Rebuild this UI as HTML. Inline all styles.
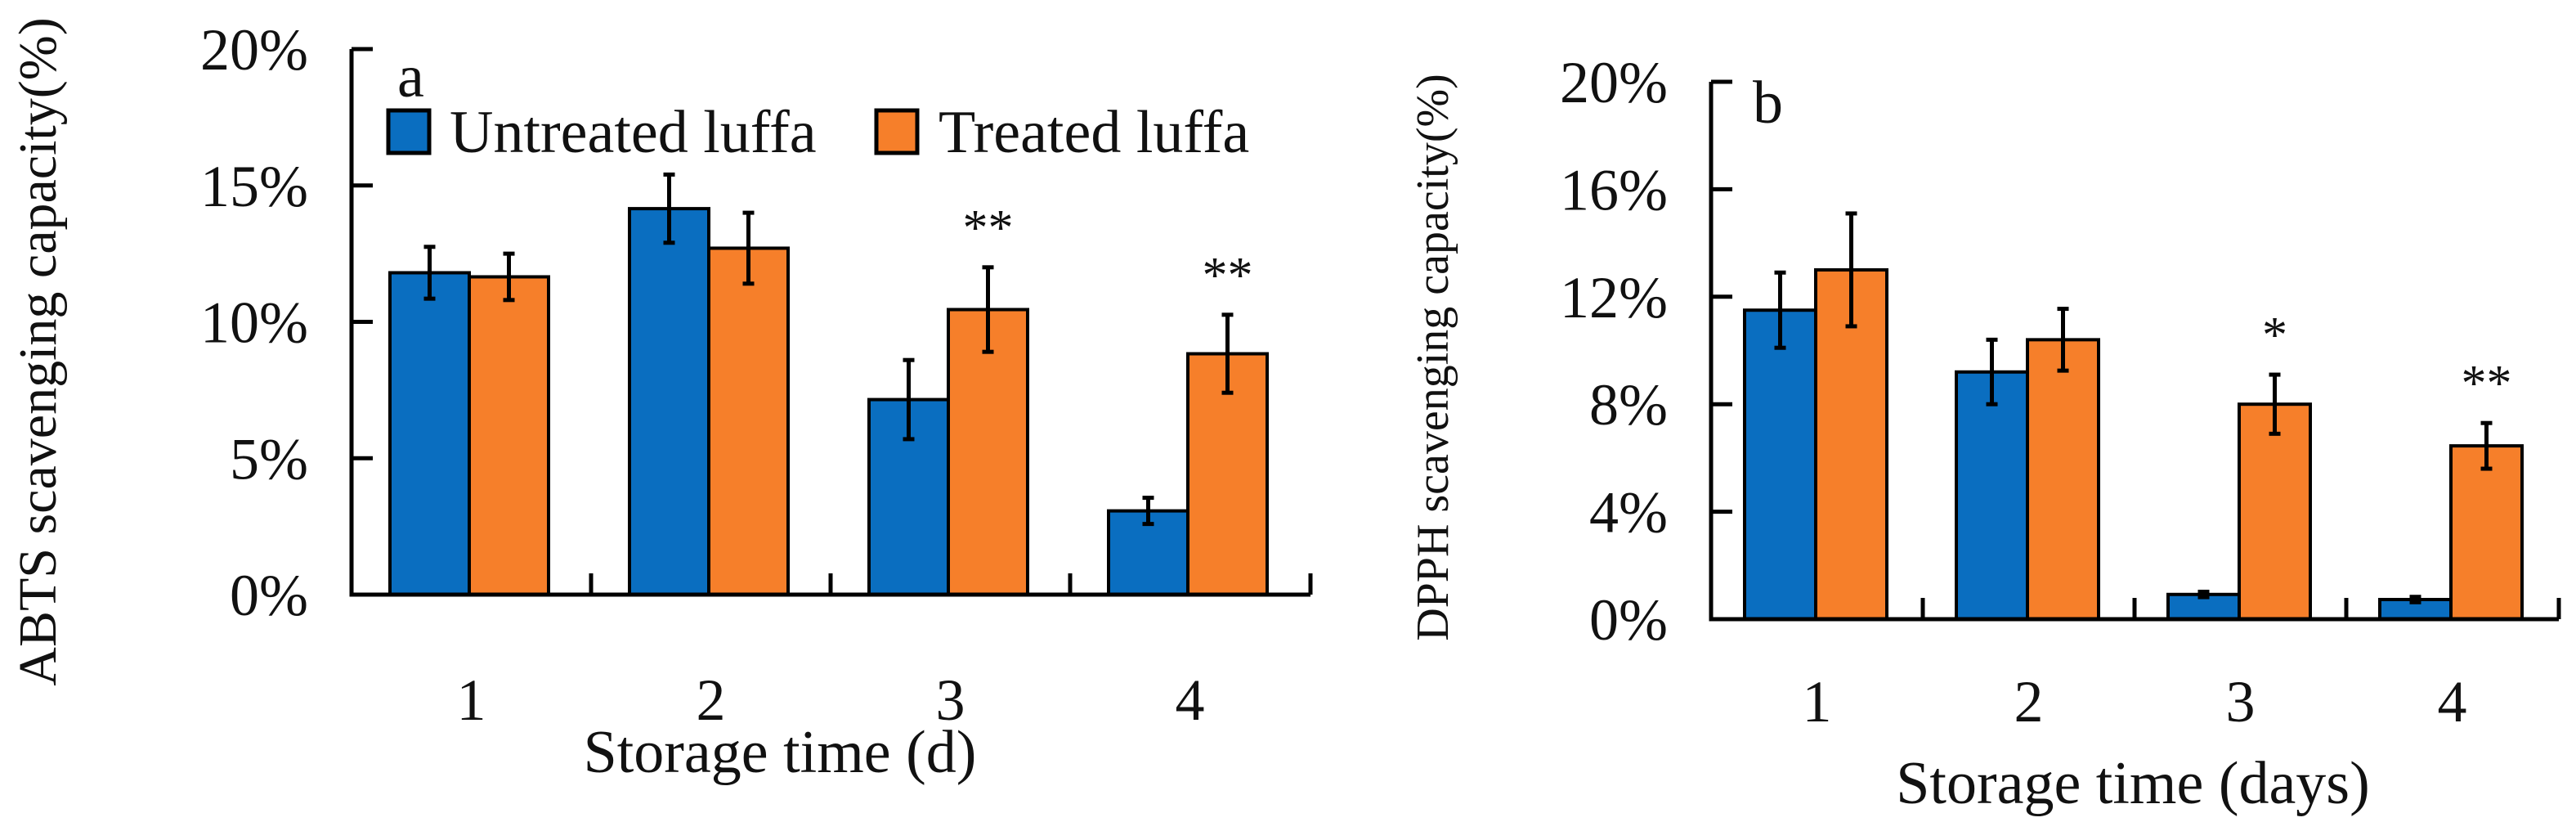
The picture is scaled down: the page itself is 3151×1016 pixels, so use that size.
<!DOCTYPE html>
<html><head><meta charset="utf-8"><style>
html,body{margin:0;padding:0;background:#fff;}
svg text{font-family:"Liberation Serif",serif;fill:#111;}
</style></head><body>
<svg id="chart" width="3151" height="1011" viewBox="0 0 3151 1011" xmlns="http://www.w3.org/2000/svg">
<g id="A"></g>
<g id="B"></g>
</svg>
<script>
const categories = ["1","2","3","4"];
const abtsUntreated = [11.8, 14.15, 7.15, 3.07];
const abtsUntreatedErr = [0.95, 1.25, 1.45, 0.48];
const abtsTreated = [11.65, 12.7, 10.45, 8.83];
const abtsTreatedErr = [0.85, 1.3, 1.55, 1.43];
const abtsStars = ["", "", "**", "**"];
const abtsTicks = [0, 5, 10, 15, 20];
const dpphUntreated = [11.5, 9.2, 0.92, 0.73];
const dpphUntreatedErr = [1.4, 1.2, 0.1, 0.1];
const dpphTreated = [13.0, 10.4, 8.0, 6.45];
const dpphTreatedErr = [2.1, 1.15, 1.1, 0.85];
const dpphStars = ["", "", "*", "**"];
const dpphTicks = [0, 4, 8, 12, 16, 20];

const NS = "http://www.w3.org/2000/svg";
const BLUE = "#0a6ec0", ORANGE = "#f67f2a";
function mk(parent, tag, attrs, text) {
  const e = document.createElementNS(NS, tag);
  for (const k in attrs) e.setAttribute(k, attrs[k]);
  if (text !== undefined) e.textContent = text;
  parent.appendChild(e);
  return e;
}

function drawPanel(g, cfg) {
  const yS = v => cfg.y0 - (v - 0) / 20 * (cfg.y0 - cfg.y20);
  const gx = i => cfg.x0 + i * cfg.gw;
  const series = [[cfg.u, cfg.ue, BLUE, 'untreated'], [cfg.t, cfg.te, ORANGE, 'treated']];
  categories.forEach((c, i) => {
    series.forEach((s, k) => {
      const x = gx(i) + cfg.pad + k * cfg.bw;
      const v = s[0][i];
      const r = mk(g, 'rect', {x: x, y: yS(v), width: cfg.bw, height: yS(0) - yS(v), fill: s[2], stroke: '#000', 'stroke-width': 4});
      
      
    });
  });
  categories.forEach((c, i) => {
    series.forEach((s, k) => {
      const cx = gx(i) + cfg.pad + k * cfg.bw + cfg.bw / 2;
      const v = s[0][i], e = s[1][i];
      const eg = mk(g, 'g', {stroke: '#000', 'stroke-width': 5});
      
      
      mk(eg, 'line', {x1: cx, x2: cx, y1: yS(v - e), y2: yS(v + e)});
      mk(eg, 'line', {x1: cx - 7, x2: cx + 7, y1: yS(v + e), y2: yS(v + e)});
      mk(eg, 'line', {x1: cx - 7, x2: cx + 7, y1: yS(v - e), y2: yS(v - e)});
    });
    if (cfg.stars[i]) {
      const cx = gx(i) + cfg.pad + cfg.bw * 1.5;
      const st = mk(g, 'text', {x: cx, y: yS(cfg.t[i] + cfg.te[i]) - 28, 'text-anchor': 'middle', 'font-size': 62}, cfg.stars[i]);
      
      
    }
  });
  const ax = mk(g, 'path', {d: `M${cfg.x0} ${cfg.y20}V${yS(0)}H${cfg.xEnd}`, fill: 'none', stroke: '#000', 'stroke-width': 5});
  
  
  cfg.ticks.forEach(t => {
    mk(g, 'line', {x1: cfg.x0, x2: cfg.x0 + 26, y1: yS(t), y2: yS(t), stroke: '#000', 'stroke-width': 5});
    const tl = mk(g, 'text', {x: cfg.tickRight, y: yS(t) + 25, 'text-anchor': 'end', 'font-size': 72}, t + '%');
    
    
  });
  for (let i = 1; i <= categories.length; i++) {
    const x = i === categories.length ? cfg.xEnd : gx(i);
    mk(g, 'line', {x1: x, x2: x, y1: yS(0), y2: yS(0) - 26, stroke: '#000', 'stroke-width': 5});
  }
  categories.forEach((c, i) => {
    const xl = mk(g, 'text', {x: gx(i) + cfg.gw / 2, y: cfg.xLabY, 'text-anchor': 'middle', 'font-size': 72}, c);
    
    
  });
}

const A = document.getElementById('A');
drawPanel(A, {x0: 430, gw: 293, pad: 47, bw: 97, xEnd: 1603, y0: 727, y20: 60,
  u: abtsUntreated, ue: abtsUntreatedErr, t: abtsTreated, te: abtsTreatedErr, stars: abtsStars,
  ticks: abtsTicks, tickRight: 377, xLabY: 880});
const B = document.getElementById('B');
drawPanel(B, {x0: 2093, gw: 259, pad: 41, bw: 87, xEnd: 3130, y0: 757, y20: 100,
  u: dpphUntreated, ue: dpphUntreatedErr, t: dpphTreated, te: dpphTreatedErr, stars: dpphStars,
  ticks: dpphTicks, tickRight: 2040, xLabY: 882});

function txt(parent, attrs, s, name) {
  const e = mk(parent, 'text', attrs, s);
  
  
  return e;
}
txt(A, {x: 954, y: 944, 'text-anchor': 'middle', 'font-size': 74}, 'Storage time (d)', 'x-axis-title');
txt(A, {x: 0, y: 0, 'text-anchor': 'middle', 'font-size': 66, transform: 'translate(68,430) rotate(-90)'}, 'ABTS scavenging capacity(%)', 'y-axis-title');
txt(A, {x: 486, y: 118, 'font-size': 74}, 'a', 'panel-label');
const leg = mk(A, 'g', {});


const lb1 = mk(leg, 'rect', {x: 475, y: 135, width: 50, height: 52, fill: BLUE, stroke: '#000', 'stroke-width': 5});


txt(leg, {x: 550, y: 186, 'font-size': 74}, 'Untreated luffa', 'legend-entry-untreated');
const lb2 = mk(leg, 'rect', {x: 1072, y: 135, width: 50, height: 52, fill: ORANGE, stroke: '#000', 'stroke-width': 5});


txt(leg, {x: 1148, y: 186, 'font-size': 74}, 'Treated luffa', 'legend-entry-treated');

txt(B, {x: 2609, y: 982, 'text-anchor': 'middle', 'font-size': 74}, 'Storage time (days)', 'x-axis-title');
txt(B, {x: 0, y: 0, 'text-anchor': 'middle', 'font-size': 56, transform: 'translate(1771,437) rotate(-90)'}, 'DPPH scavenging capacity(%)', 'y-axis-title');
txt(B, {x: 2144, y: 150, 'font-size': 74}, 'b', 'panel-label');
</script>
</body></html>
